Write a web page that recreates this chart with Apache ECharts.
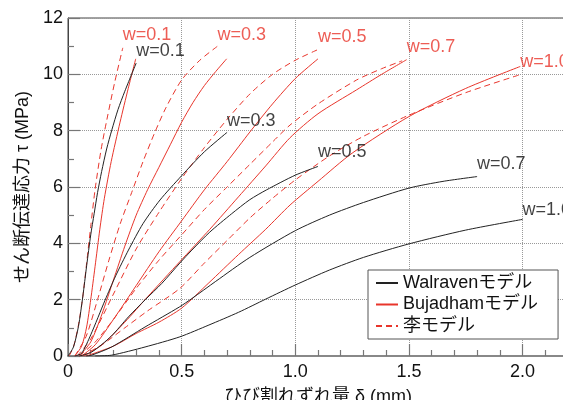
<!DOCTYPE html>
<html><head><meta charset="utf-8">
<script src="https://cdn.jsdelivr.net/npm/echarts@6/dist/echarts.min.js"></script>
<style>html,body{margin:0;padding:0;background:#fff}#c{width:563px;height:400px}</style>
</head><body><div id="c"></div>
<script>
// ---- data (δ in mm, τ in MPa) ----
const wLabels = ['w=0.1', 'w=0.3', 'w=0.5', 'w=0.7', 'w=1.0'];
const xTicks = [0, 0.5, 1.0, 1.5, 2.0];
const yTicks = [0, 2, 4, 6, 8, 10, 12];

const walraven01 = [[0,0],[0.024,0.32],[0.046,1.05],[0.065,2.1],[0.082,3.2],[0.1,4.3],[0.115,5.05],[0.13,5.8],[0.148,6.55],[0.17,7.35],[0.193,8.03],[0.22,8.75],[0.25,9.4],[0.3,10.4]];
const walraven03 = [[0.03,0],[0.06,0.1],[0.1,0.75],[0.163,1.98],[0.21,2.85],[0.266,3.76],[0.33,4.7],[0.405,5.54],[0.5,6.4],[0.6,7.25],[0.7,7.94]];
const walraven05 = [[0.05,0],[0.104,0.14],[0.19,0.7],[0.266,1.39],[0.34,2.0],[0.413,2.58],[0.492,3.3],[0.545,3.76],[0.624,4.4],[0.72,5.05],[0.8,5.55],[0.874,5.9],[1.0,6.42],[1.1,6.73]];
const walraven07 = [[0.08,0],[0.104,0.03],[0.192,0.32],[0.339,1.03],[0.49,1.74],[0.545,2.04],[0.65,2.65],[0.8,3.5],[1.0,4.45],[1.15,5.0],[1.3,5.45],[1.5,5.96],[1.65,6.2],[1.8,6.37]];
const walraven10 = [[0.12,0],[0.192,0.03],[0.339,0.32],[0.492,0.68],[0.62,1.1],[0.75,1.55],[0.87,2.02],[1.0,2.52],[1.15,3.05],[1.3,3.5],[1.5,3.98],[1.75,4.47],[2.0,4.85]];

const bujadham01 = [[0.03,0],[0.06,0.35],[0.082,1.03],[0.1,2.0],[0.119,3.17],[0.14,4.5],[0.16,5.6],[0.19,6.9],[0.229,8.3],[0.265,9.5],[0.298,10.55]];
const bujadham03 = [[0.05,0],[0.1,0.5],[0.15,1.5],[0.2,2.7],[0.25,3.9],[0.3,5.0],[0.35,5.9],[0.4,6.7],[0.45,7.5],[0.5,8.3],[0.55,9.0],[0.6,9.6],[0.65,10.1],[0.698,10.55]];
const bujadham05 = [[0.06,0],[0.12,0.4],[0.2,1.3],[0.3,2.5],[0.4,3.7],[0.5,4.8],[0.6,5.9],[0.7,6.9],[0.8,7.95],[0.9,8.95],[1.0,9.85],[1.1,10.55]];
const bujadham07 = [[0.07,0],[0.15,0.4],[0.25,1.2],[0.35,2.1],[0.492,3.35],[0.624,4.5],[0.75,5.65],[0.87,6.75],[0.977,7.75],[1.1,8.6],[1.27,9.45],[1.38,10.0],[1.49,10.52]];
const bujadham10 = [[0.08,0],[0.2,0.35],[0.3,0.8],[0.4,1.2],[0.5,1.7],[0.62,2.6],[0.75,3.6],[0.87,4.5],[0.977,5.36],[1.1,6.2],[1.25,7.2],[1.5,8.5],[1.75,9.5],[1.99,10.28]];

const li01 = [[0.005,0],[0.024,0.32],[0.046,1.1],[0.065,2.1],[0.082,3.3],[0.1,4.6],[0.119,5.9],[0.145,7.3],[0.171,8.39],[0.205,9.7],[0.241,10.94]];
const li03 = [[0.03,0],[0.08,0.7],[0.13,2.0],[0.18,3.4],[0.23,4.7],[0.28,5.8],[0.33,6.9],[0.38,7.9],[0.43,8.8],[0.5,9.8],[0.58,10.5],[0.658,11.0]];
const li05 = [[0.04,0],[0.1,0.6],[0.2,2.2],[0.3,3.8],[0.4,5.1],[0.5,6.3],[0.6,7.4],[0.7,8.4],[0.8,9.3],[0.9,10.0],[1.0,10.5],[1.1,10.88]];
const li07 = [[0.05,0],[0.12,0.5],[0.2,1.3],[0.3,2.4],[0.4,3.4],[0.5,4.3],[0.6,5.2],[0.7,6.0],[0.8,6.8],[0.9,7.6],[0.977,8.2],[1.1,8.95],[1.27,9.8],[1.38,10.2],[1.47,10.48]];
const li10 = [[0.06,0],[0.15,0.4],[0.25,1.0],[0.35,1.6],[0.492,2.4],[0.6,3.3],[0.7,4.1],[0.8,4.9],[0.9,5.6],[1.0,6.25],[1.15,7.1],[1.3,7.8],[1.5,8.55],[1.75,9.35],[1.99,9.99]];

const modelNames = ['Walravenモデル', 'Bujadhamモデル', '李モデル'];
const walraven = [walraven01, walraven03, walraven05, walraven07, walraven10];
const bujadham = [bujadham01, bujadham03, bujadham05, bujadham07, bujadham10];
const li = [li01, li03, li05, li07, li10];

// ---- styling ----
const FONT = "'Liberation Sans', Arial, 'Noto Sans CJK JP', sans-serif";
const BLACK = '#222';
const RED = '#e8352b';
const FS = 18;

const series = [];
function addLines(name, curves, color, type, legendColor) {
  curves.forEach(d => series.push({
    type: 'line', name, data: d, showSymbol: false, symbol: 'none',
    smooth: 0.25, silent: true,
    lineStyle: { color, width: 1, type: type },
    itemStyle: { color: legendColor }, z: color === BLACK ? 4 : 3
  }));
}
addLines(modelNames[0], walraven, BLACK, 'solid', '#555');
addLines(modelNames[1], bujadham, RED, 'solid', RED);
addLines(modelNames[2], li, RED, [6, 4], '#f07070');

// curve-end labels (anchored at the last point of the relevant curve)
const last = a => a[a.length - 1];
const blackAnchors = walraven.map(last);
const redAnchors = [last(li01), last(li03), last(li05), last(bujadham07), last(bujadham10)];
const blackDy = [-3.5, -2.6, -5, -3.7, -0.4];
const redDy = [-4.3, -2.6, -3.5, -3.6, 4.7];
function labelItems(anchors, dys, color) {
  return anchors.map((p, i) => ({
    value: p,
    label: { show: true, formatter: wLabels[i], position: [0, 0], align: 'left',
      verticalAlign: 'bottom', offset: [0, dys[i]], color, fontSize: FS, fontFamily: FONT }
  }));
}
series.push({ type: 'scatter', silent: true, symbolSize: 0, z: 10,
  data: labelItems(blackAnchors, blackDy, '#111').concat(labelItems(redAnchors, redDy, RED)) });

const chart = echarts.init(document.getElementById('c'), null, { renderer: 'canvas' });
chart.setOption({
  animation: false,
  backgroundColor: '#fff',
  textStyle: { fontFamily: FONT },
  grid: { left: 68, right: -5, top: 18, bottom: 44, outerBoundsMode: 'none', containLabel: false,
    show: true, borderColor: '#444', borderWidth: 1, backgroundColor: 'transparent' },
  legend: {
    data: modelNames.map(n => ({ name: n, itemStyle: { opacity: 0 } })),
    orient: 'vertical', left: 368, top: 270,
    backgroundColor: '#fff', borderColor: '#555', borderWidth: 1,
    padding: [4, 20, 4, 7], itemWidth: 22, itemHeight: 14, itemGap: 3.5, itemTextGap: 6,
    itemStyle: { opacity: 0 },
    textStyle: { fontSize: FS, lineHeight: 18, color: '#111', fontFamily: FONT }
  },
  xAxis: {
    type: 'value', min: 0, max: 2.2, interval: 0.5,
    name: 'ひび割れずれ量 δ (mm)', nameLocation: 'middle', nameGap: 32,
    nameTextStyle: { fontSize: FS, color: '#111', fontFamily: FONT },
    axisLine: { lineStyle: { color: '#888', width: 2 } },
    axisTick: { inside: true, length: 12, lineStyle: { color: '#777', width: 1.2 } },
    minorTick: { show: true, splitNumber: 5, length: 6, lineStyle: { color: '#777', width: 1.2 } },
    splitLine: { show: true, lineStyle: { color: '#999', type: 'dotted', width: 1 } },
    axisLabel: { fontSize: FS, color: '#111', margin: 7, fontFamily: FONT,
      formatter: v => xTicks.includes(v) ? (v === 0 ? '0' : v.toFixed(1)) : '' }
  },
  yAxis: {
    type: 'value', min: 0, max: 12, interval: 2,
    name: 'せん断伝達応力 τ (MPa)', nameLocation: 'middle', nameGap: 29, nameRotate: 90,
    nameTextStyle: { fontSize: FS, color: '#111', fontFamily: FONT },
    axisLine: { show: true, lineStyle: { color: '#444', width: 1 } },
    axisTick: { inside: true, length: 12, lineStyle: { color: '#777', width: 1.2 } },
    minorTick: { show: true, splitNumber: 2, length: 6, lineStyle: { color: '#777', width: 1.2 } },
    splitLine: { show: true, lineStyle: { color: '#999', type: 'dotted', width: 1 } },
    axisLabel: { fontSize: FS, color: '#111', margin: 5, fontFamily: FONT,
      formatter: v => yTicks.includes(v) ? String(v) : '' }
  },
  series
});
</script></body></html>
